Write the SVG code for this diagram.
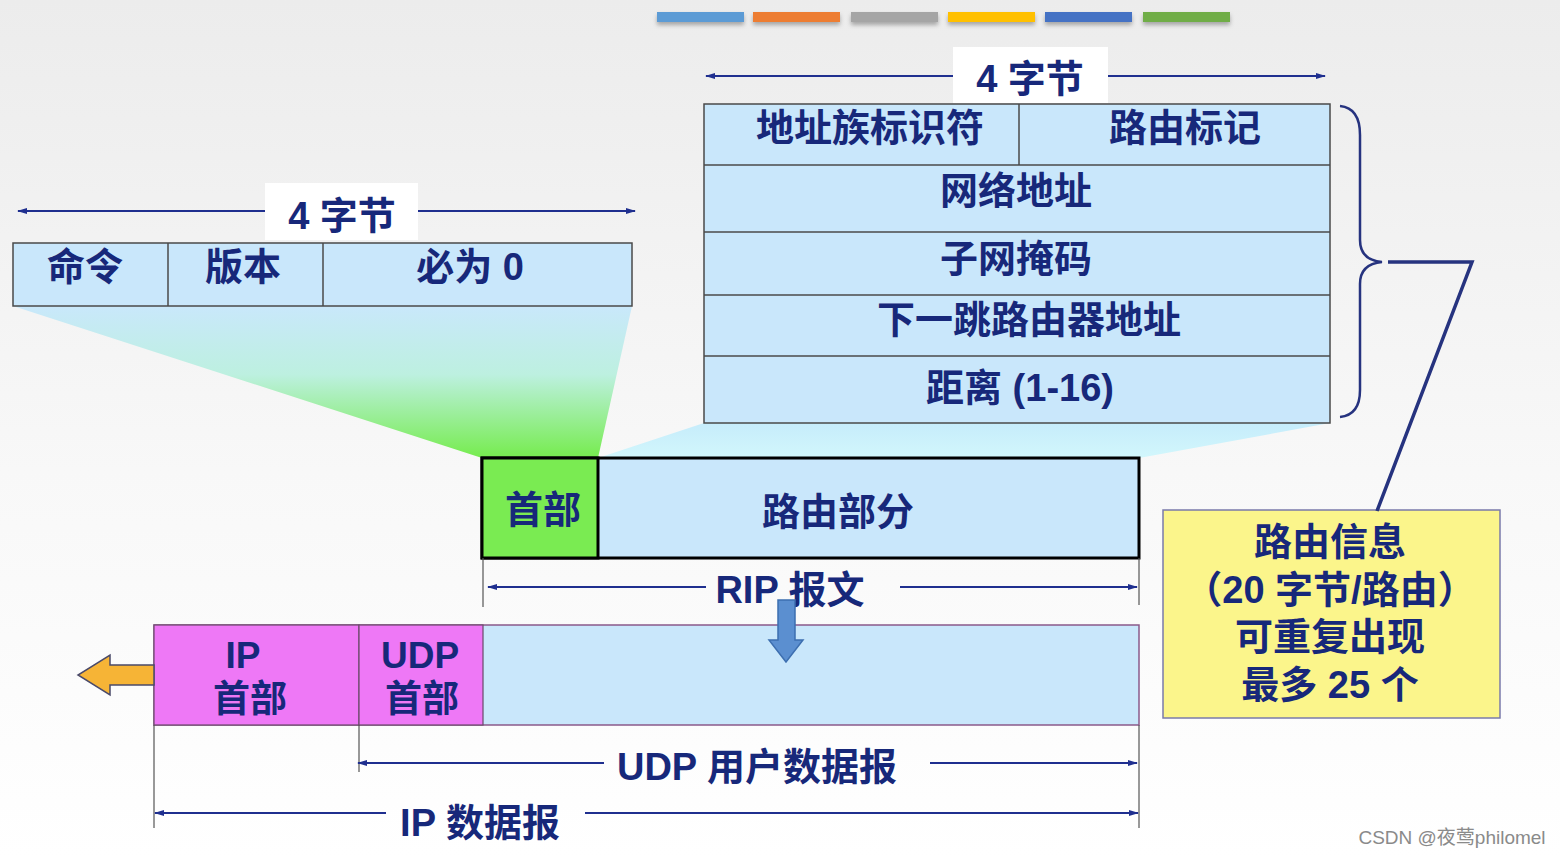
<svg xmlns="http://www.w3.org/2000/svg" width="1560" height="857" viewBox="0 0 1560 857">
<defs>
<linearGradient id="bg" x1="0" y1="0" x2="0" y2="1">
<stop offset="0" stop-color="#ececec"/>
<stop offset="0.55" stop-color="#f8f8f8"/>
<stop offset="1" stop-color="#ffffff"/>
</linearGradient>
<linearGradient id="fanL" x1="0" y1="0" x2="0" y2="1">
<stop offset="0" stop-color="#c9e8fb"/>
<stop offset="0.45" stop-color="#bdf0e0"/>
<stop offset="1" stop-color="#76ec4e"/>
</linearGradient>
<linearGradient id="fanR" x1="0" y1="0" x2="0" y2="1">
<stop offset="0" stop-color="#c6ecfb"/>
<stop offset="1" stop-color="#d2f7fc"/>
</linearGradient>
<filter id="sh" x="-10%" y="-50%" width="120%" height="250%">
<feDropShadow dx="0" dy="3" stdDeviation="2" flood-color="#000" flood-opacity="0.3"/>
</filter>
<marker id="ah" viewBox="0 0 10 10" refX="9" refY="5" markerWidth="10" markerHeight="10" markerUnits="userSpaceOnUse" orient="auto-start-reverse">
<path d="M0,2 L10,5 L0,8 Z" fill="#1f2f8f"/>
</marker>
<style>
.t{font-family:"Liberation Sans","Noto Sans CJK SC",sans-serif;font-weight:bold;font-size:38px;fill:#17287a;text-anchor:middle}
.s{font-size:37px}
.cell{fill:#c9e7fb;stroke:#4a4a4a;stroke-width:1.5}
.div{stroke:#4a4a4a;stroke-width:1.5}
.dim{stroke:#1f2f8f;stroke-width:2;fill:none}
.tick{stroke:#555;stroke-width:1.2}
.lab{fill:#ffffff}
</style>
</defs>
<rect x="0" y="0" width="1560" height="857" fill="url(#bg)"/>

<g id="colorbars" filter="url(#sh)">
<rect x="657" y="12" width="87" height="10" fill="#5b9bd5"/>
<rect x="753" y="12" width="87" height="10" fill="#ed7d31"/>
<rect x="851" y="12" width="87" height="10" fill="#a5a5a5"/>
<rect x="948" y="12" width="87" height="10" fill="#ffc000"/>
<rect x="1045" y="12" width="87" height="10" fill="#4472c4"/>
<rect x="1143" y="12" width="87" height="10" fill="#70ad47"/>
</g>

<g id="funnels">
<polygon points="13,306 632,306 598,458 482,458" fill="url(#fanL)"/>
<polygon points="704,423 1330,423 1139,458 598,458" fill="url(#fanR)"/>
</g>

<g id="rip-header-format">
<rect x="13" y="243" width="619" height="63" class="cell"/>
<line x1="168" y1="243" x2="168" y2="306" class="div"/>
<line x1="323" y1="243" x2="323" y2="306" class="div"/>
<text x="85" y="280" class="t">命令</text>
<text x="243" y="280" class="t">版本</text>
<text x="470" y="280" class="t">必为 0</text>
</g>

<g id="route-entry-format">
<rect x="704" y="104" width="626" height="319" class="cell"/>
<line x1="1019" y1="104" x2="1019" y2="165" class="div"/>
<line x1="704" y1="165" x2="1330" y2="165" class="div"/>
<line x1="704" y1="232" x2="1330" y2="232" class="div"/>
<line x1="704" y1="295" x2="1330" y2="295" class="div"/>
<line x1="704" y1="356" x2="1330" y2="356" class="div"/>
<text x="870" y="141" class="t">地址族标识符</text>
<text x="1185" y="141" class="t">路由标记</text>
<text x="1016" y="204" class="t">网络地址</text>
<text x="1016" y="272" class="t">子网掩码</text>
<text x="1029" y="333" class="t">下一跳路由器地址</text>
<text x="1020" y="401" class="t">距离 (1-16)</text>
</g>

<g id="rip-message">
<rect x="482" y="458" width="657" height="100" fill="#c9e7fb" stroke="#000" stroke-width="3"/>
<rect x="482" y="458" width="116" height="100" fill="#7aeb52" stroke="#000" stroke-width="3"/>
<text x="543" y="523" class="t">首部</text>
<text x="838" y="525" class="t">路由部分</text>
</g>

<g id="ip-datagram">
<rect x="154" y="625" width="985" height="100" fill="#c9e7fb" stroke="#8a5a8a" stroke-width="1.5"/>
<rect x="154" y="625" width="205" height="100" fill="#ee78f6" stroke="#6a4a6a" stroke-width="1.2"/>
<rect x="359" y="625" width="124" height="100" fill="#ee78f6" stroke="#6a4a6a" stroke-width="1.2"/>
<text x="243" y="668" class="t s">IP</text>
<text x="250" y="712" class="t s">首部</text>
<text x="420" y="668" class="t s">UDP</text>
<text x="422" y="712" class="t s">首部</text>
</g>

<g id="route-info-note">
<rect x="1163" y="510" width="337" height="208" fill="#fbf58b" stroke="#7a7aaa" stroke-width="1.5"/>
<text x="1330" y="555" class="t">路由信息</text>
<text x="1330" y="603" class="t">（20 字节/路由）</text>
<text x="1330" y="650" class="t">可重复出现</text>
<text x="1330" y="698" class="t">最多 25 个</text>
</g>

<g id="connectors">
<line x1="18" y1="211" x2="635" y2="211" class="dim" marker-start="url(#ah)" marker-end="url(#ah)"/>
<rect x="265" y="183" width="153" height="57" class="lab"/>
<text x="342" y="229" class="t">4 字节</text>
<line x1="706" y1="76" x2="1325" y2="76" class="dim" marker-start="url(#ah)" marker-end="url(#ah)"/>
<rect x="953" y="47" width="155" height="56" class="lab"/>
<text x="1030" y="92" class="t">4 字节</text>
<path d="M1340,106 Q1360,108 1360,135 L1360,240 Q1360,260 1382,262 Q1360,264 1360,284 L1360,390 Q1360,415 1340,417" fill="none" stroke="#26337f" stroke-width="2.5"/>
<polyline points="1388,262 1472,262 1377,511" fill="none" stroke="#26337f" stroke-width="3.5"/>
<line x1="483" y1="558" x2="483" y2="607" class="tick"/>
<line x1="1139" y1="558" x2="1139" y2="605" class="tick"/>
<line x1="488" y1="587" x2="706" y2="587" class="dim" marker-start="url(#ah)"/>
<line x1="900" y1="587" x2="1137" y2="587" class="dim" marker-end="url(#ah)"/>
<text x="790" y="603" class="t">RIP 报文</text>
<polygon points="778,600 795,600 795,640 803,640 786,662 769,640 778,640" fill="#5b8fd0" stroke="#3d6fb0" stroke-width="1.5"/>
<polygon points="154,665 110,665 110,655 78,675 110,695 110,685 154,685" fill="#f6b436" stroke="#4a4a6a" stroke-width="1.5"/>
<line x1="359" y1="725" x2="359" y2="772" class="tick"/>
<line x1="358" y1="763" x2="604" y2="763" class="dim" marker-start="url(#ah)"/>
<line x1="930" y1="763" x2="1137" y2="763" class="dim" marker-end="url(#ah)"/>
<text x="757" y="780" class="t">UDP 用户数据报</text>
<line x1="154" y1="725" x2="154" y2="828" class="tick"/>
<line x1="1139" y1="725" x2="1139" y2="828" class="tick"/>
<line x1="155" y1="813" x2="386" y2="813" class="dim" marker-start="url(#ah)"/>
<line x1="585" y1="813" x2="1138" y2="813" class="dim" marker-end="url(#ah)"/>
<text x="480" y="836" class="t">IP 数据报</text>
</g>

<text x="1452" y="844" font-family="'Liberation Sans','Noto Sans CJK SC',sans-serif" font-size="19" fill="#8a8a8a" text-anchor="middle">CSDN @夜莺philomel</text>
</svg>
